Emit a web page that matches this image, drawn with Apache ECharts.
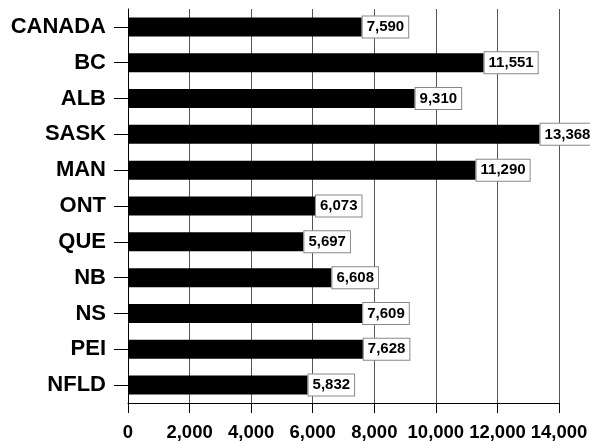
<!DOCTYPE html>
<html><head><meta charset="utf-8">
<script src="https://cdn.jsdelivr.net/npm/echarts@6/dist/echarts.min.js"></script>
<style>html,body{margin:0;padding:0;background:#fff}#c{width:590px;height:442px}</style>
</head><body><div id="c"></div>
<script>
const categories = ["CANADA","BC","ALB","SASK","MAN","ONT","QUE","NB","NS","PEI","NFLD"];
const values = [7590,11551,9310,13368,11290,6073,5697,6608,7609,7628,5832];
const xTicks = [0,2000,4000,6000,8000,10000,12000,14000];

const fmt = v => v.toLocaleString('en-US');
const chart = echarts.init(document.getElementById('c'), null, {renderer:'canvas'});
chart.setOption({
  animation:false,
  backgroundColor:'#fff',
  grid:{left:128,right:31,top:9,bottom:39,containLabel:false,outerBoundsMode:'none'},
  xAxis:{
    type:'value', min:xTicks[0], max:xTicks[xTicks.length-1], interval:2000,
    axisLine:{show:true,lineStyle:{color:'#000',width:1}},
    axisTick:{show:true,length:10,lineStyle:{color:'#000'}},
    splitLine:{show:true,lineStyle:{color:'#555',width:1}},
    axisLabel:{margin:20,color:'#000',fontFamily:'Liberation Sans, Arial, sans-serif',fontWeight:'bold',fontSize:18.5,formatter:v=>fmt(v)}
  },
  yAxis:{
    type:'category', data:categories, inverse:true,
    axisLine:{show:true,lineStyle:{color:'#000',width:1}},
    axisTick:{show:true,length:14,alignWithLabel:true,lineStyle:{color:'#000'}},
    splitLine:{show:false},
    axisLabel:{margin:22,color:'#000',fontFamily:'Liberation Sans, Arial, sans-serif',fontWeight:'bold',fontSize:22}
  },
  series:[{
    type:'bar', data:values, barWidth:19,
    itemStyle:{color:'#000'},
    label:{show:true,position:'right',distance:1,formatter:p=>fmt(p.value),
      color:'#000',fontFamily:'Liberation Sans, Arial, sans-serif',fontWeight:'bold',fontSize:15,
      backgroundColor:'#fff',borderColor:'#888',borderWidth:1,padding:[3,4,3,4]}
  }]
});
</script></body></html>
